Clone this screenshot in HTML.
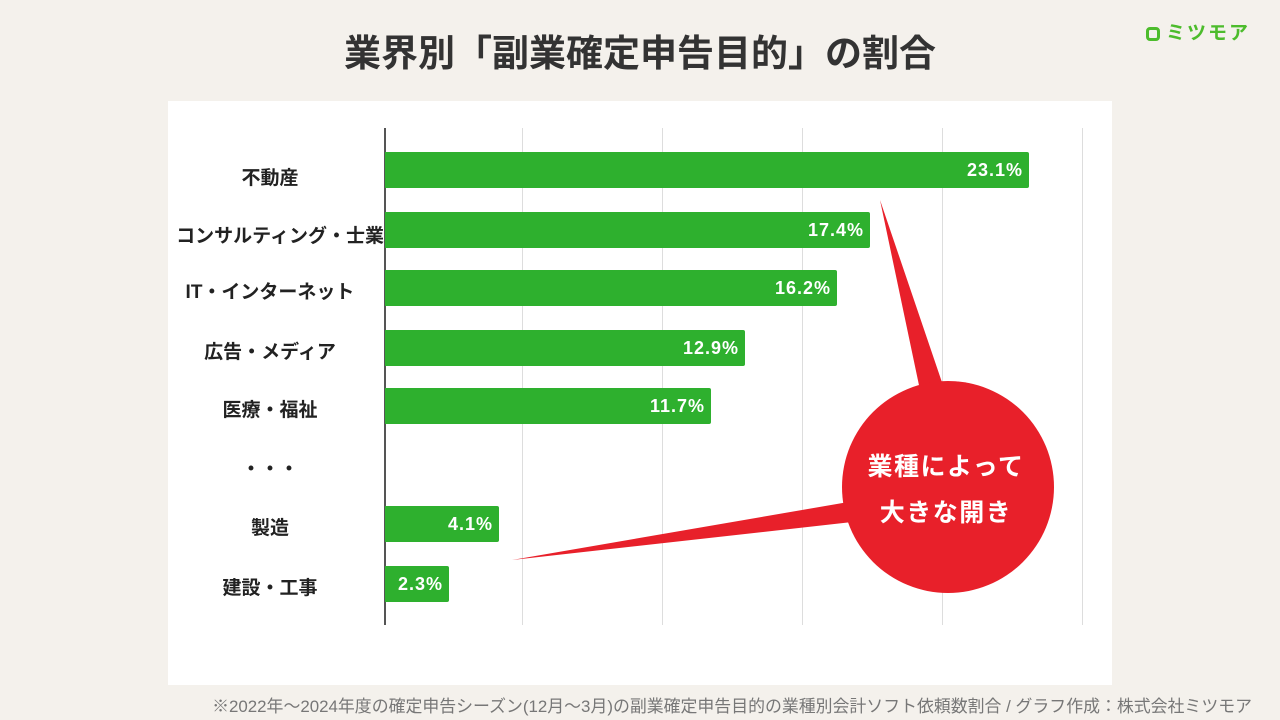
<!DOCTYPE html>
<html><head><meta charset="utf-8"><style>
body{margin:0;width:1280px;height:720px;background:#f4f1ec;position:relative;overflow:hidden;font-family:"Liberation Sans","Noto Sans CJK JP",sans-serif;}
.t{position:absolute;top:32px;left:0;width:1280px;text-align:center;font-size:37px;font-weight:bold;color:#333;line-height:44px}
.panel{position:absolute;left:168px;top:101px;width:944px;height:584px;background:#fff;}
.lab{position:absolute;width:220px;left:160px;text-align:center;font-size:19px;font-weight:bold;color:#222;}
.bar{position:absolute;left:385px;height:36px;background:#2eb02e;color:#fff;font-size:18px;font-weight:bold;text-align:right;line-height:36px;box-sizing:border-box;padding-right:6px;border-radius:0 2px 2px 0;letter-spacing:1px}
.g{position:absolute;top:128px;height:497px;width:1px;background:#ddd;}
.foot{position:absolute;right:28px;top:692px;font-size:16.9px;color:#777;white-space:nowrap}
</style></head><body>
<div class="t">業界別「副業確定申告目的」の割合</div>
<div style="position:absolute;left:1146px;top:18px;font-size:19px;font-weight:bold;color:#4cbc2c;letter-spacing:2px"><span style="display:inline-block;width:14px;height:14px;border:3px solid #4cbc2c;border-radius:4px;vertical-align:-2px;margin-right:6px;box-sizing:border-box"></span>ミツモア</div>
<div class="panel"></div>
<div class="g" style="left:522px"></div><div class="g" style="left:662px"></div><div class="g" style="left:802px"></div><div class="g" style="left:942px"></div><div class="g" style="left:1082px"></div>
<div style="position:absolute;left:384px;top:128px;width:2px;height:497px;background:#555"></div>
<div class="lab" style="top:163px">不動産</div>
<div class="lab" style="top:221px;left:160px;width:224px;text-align:right;white-space:nowrap">コンサルティング・士業</div>
<div class="lab" style="top:277px;left:165px;width:210px">IT・インターネット</div>
<div class="lab" style="top:337px">広告・メディア</div>
<div class="lab" style="top:395px">医療・福祉</div>
<div class="lab" style="top:454px">・・・</div>
<div class="lab" style="top:513px">製造</div>
<div class="lab" style="top:573px">建設・工事</div>
<div class="bar" style="top:152px;width:644px">23.1%</div>
<div class="bar" style="top:212px;width:485px">17.4%</div>
<div class="bar" style="top:270px;width:452px">16.2%</div>
<div class="bar" style="top:330px;width:360px">12.9%</div>
<div class="bar" style="top:388px;width:326px">11.7%</div>
<div class="bar" style="top:506px;width:114px">4.1%</div>
<div class="bar" style="top:566px;width:64px">2.3%</div>
<svg style="position:absolute;left:0;top:0" width="1280" height="720">
<polygon points="880,200 948,400 920,390" fill="#e8202a"/>
<polygon points="512,560 860,500 870,520" fill="#e8202a"/>
<circle cx="948" cy="487" r="106" fill="#e8202a"/>
<text x="946" y="475" text-anchor="middle" font-size="25" letter-spacing="1.5" font-weight="bold" fill="#fff" font-family="Liberation Sans,Noto Sans CJK JP,sans-serif">業種によって</text>
<text x="946" y="521" text-anchor="middle" font-size="25" letter-spacing="1.5" font-weight="bold" fill="#fff" font-family="Liberation Sans,Noto Sans CJK JP,sans-serif">大きな開き</text>
</svg>
<div class="foot">※2022年〜2024年度の確定申告シーズン(12月〜3月)の副業確定申告目的の業種別会計ソフト依頼数割合 / グラフ作成：株式会社ミツモア</div>
</body></html>
